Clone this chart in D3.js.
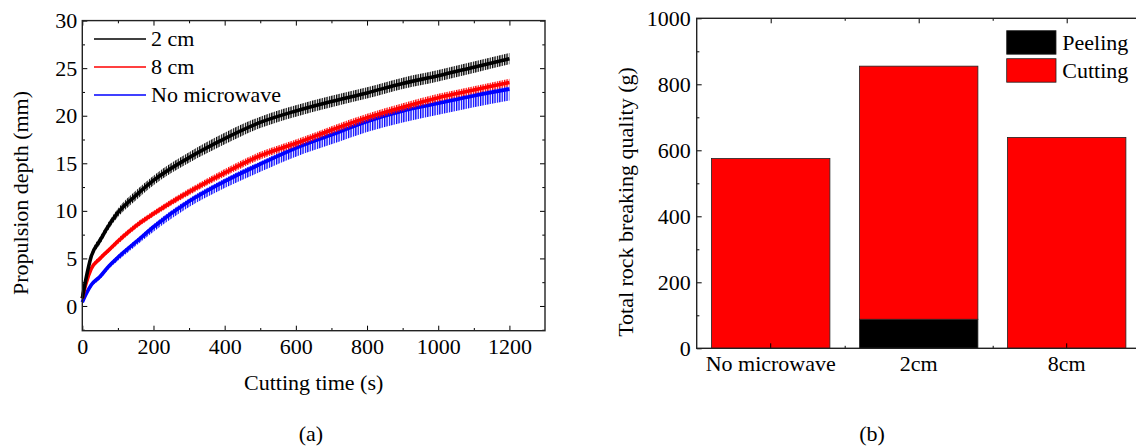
<!DOCTYPE html>
<html>
<head>
<meta charset="utf-8">
<script src="https://cdn.jsdelivr.net/npm/d3@7"></script>
<style>
  body { margin: 0; background: #fff; }
  svg text { font-family: "Liberation Serif", "Times New Roman", serif; fill: #000; }
</style>
</head>
<body>
<div id="fig"></div>
<script>
// ---- data ----
const times = [0, 10, 25, 50, 75, 100, 150, 200, 300, 400, 500, 600, 700, 800, 900, 1000, 1100, 1200];
const depth2cm  = [0.8, 2.8, 5.2, 6.9, 8.5, 9.8, 11.6, 13.2, 15.6, 17.6, 19.3, 20.5, 21.5, 22.4, 23.4, 24.2, 25.1, 26.0];
const depth8cm  = [0.8, 2.3, 3.9, 5.0, 5.9, 6.8, 8.4, 9.7, 12.0, 14.0, 15.8, 17.1, 18.5, 19.8, 20.9, 21.9, 22.7, 23.5];
const depthNone = [0.4, 1.2, 2.2, 3.1, 4.2, 5.1, 6.7, 8.3, 11.0, 13.1, 14.9, 16.6, 18.0, 19.4, 20.5, 21.3, 22.1, 22.8];
// half-amplitude of the oscillation around each curve (mm)
const jitter2cm    = [0, 0.2, 0.3, 0.4, 0.4, 0.45, 0.5, 0.5, 0.55, 0.6, 0.6, 0.6, 0.6, 0.6, 0.6, 0.6, 0.6, 0.6];
const jitter8cm    = [0, 0.1, 0.2, 0.25, 0.25, 0.3, 0.3, 0.3, 0.35, 0.4, 0.4, 0.4, 0.4, 0.4, 0.4, 0.4, 0.4, 0.4];
const jitterNoneUp = [0, 0.1, 0.15, 0.2, 0.2, 0.25, 0.25, 0.3, 0.3, 0.3, 0.3, 0.3, 0.3, 0.3, 0.3, 0.3, 0.3, 0.3];
const jitterNoneDn = [0, 0.2, 0.25, 0.3, 0.3, 0.35, 0.4, 0.5, 0.6, 0.7, 0.8, 0.9, 1.0, 1.1, 1.2, 1.2, 1.2, 1.2];
const seriesNames  = ["2 cm", "8 cm", "No microwave"];

const groups  = ["No microwave", "2cm", "8cm"];
const peeling = [0, 88, 0];
const cutting = [575, 767, 639];
const stackKeys = ["Peeling", "Cutting"];

const xTicksA = [0, 200, 400, 600, 800, 1000, 1200];
const yTicksA = [0, 5, 10, 15, 20, 25, 30];
const yTicksB = [0, 200, 400, 600, 800, 1000];

const W = 1136, H = 446, FS = 22;
const svg = d3.select("#fig").append("svg").attr("width", W).attr("height", H);
const defs = svg.append("defs");

// =====================
// (a) line chart
// =====================
const A = { left: 82.3, right: 545, top: 20.6, bottom: 330.7 };
const x = d3.scaleLinear().domain([0, 1300]).range([A.left, A.right]);
const y = d3.scaleLinear().domain([-2.6, 30]).range([A.bottom, A.top]);

const series = [
  { name: "No microwave", color: "#0000ff", v: depthNone, up: jitterNoneUp, dn: jitterNoneDn },
  { name: "8 cm", color: "#ff0000", v: depth8cm, up: jitter8cm, dn: jitter8cm },
  { name: "2 cm", color: "#000000", v: depth2cm, up: jitter2cm, dn: jitter2cm }
];

series.forEach((s, k) => {
  const pat = defs.append("pattern")
    .attr("id", "stripe" + k)
    .attr("patternUnits", "userSpaceOnUse")
    .attr("width", 2.4).attr("height", 10);
  pat.append("rect").attr("width", 1.3).attr("height", 10).attr("fill", s.color);
});

const plotA = svg.append("g");
series.forEach((s, k) => {
  const pts = times.map((t, i) => ({ t, v: s.v[i], up: s.up[i], dn: s.dn[i] }));
  plotA.append("path")
    .datum(pts)
    .attr("fill", `url(#stripe${k})`)
    .attr("d", d3.area()
      .x(d => x(d.t))
      .y0(d => y(d.v - d.dn))
      .y1(d => y(d.v + d.up))
      .curve(d3.curveMonotoneX));
  plotA.append("path")
    .datum(pts)
    .attr("fill", "none")
    .attr("stroke", s.color)
    .attr("stroke-width", 3.6)
    .attr("d", d3.line().x(d => x(d.t)).y(d => y(d.v)).curve(d3.curveMonotoneX));
});

function styleAxis(g) {
  g.select(".domain").remove();
  g.selectAll("line").attr("stroke", "#000").attr("stroke-width", 1);
  g.selectAll("text").style("font-size", FS + "px")
    .style("font-family", '"Liberation Serif", serif');
}

// axes (a) - ticks point inward
const minorX = [100, 300, 500, 700, 900, 1100];
const minorY = [-2.5, 2.5, 7.5, 12.5, 17.5, 22.5, 27.5];
svg.append("g").attr("transform", `translate(0,${A.bottom})`)
  .call(d3.axisBottom(x).tickValues(xTicksA).tickSize(-5).tickPadding(7.7).tickFormat(d3.format("d")))
  .call(styleAxis);
svg.append("g").attr("transform", `translate(0,${A.bottom})`)
  .call(d3.axisBottom(x).tickValues(minorX).tickSize(-2.7).tickFormat(""))
  .call(styleAxis);
svg.append("g").attr("transform", `translate(0,${A.top})`)
  .call(d3.axisTop(x).tickValues(xTicksA).tickSize(-5).tickFormat(""))
  .call(styleAxis);
svg.append("g").attr("transform", `translate(0,${A.top})`)
  .call(d3.axisTop(x).tickValues(minorX).tickSize(-2.7).tickFormat(""))
  .call(styleAxis);
svg.append("g").attr("transform", `translate(${A.left},0)`)
  .call(d3.axisLeft(y).tickValues(yTicksA).tickSize(-5).tickPadding(5))
  .call(styleAxis);
svg.append("g").attr("transform", `translate(${A.left},0)`)
  .call(d3.axisLeft(y).tickValues(minorY).tickSize(-2.7).tickFormat(""))
  .call(styleAxis);
svg.append("g").attr("transform", `translate(${A.right},0)`)
  .call(d3.axisRight(y).tickValues(yTicksA).tickSize(-5).tickFormat(""))
  .call(styleAxis);
svg.append("g").attr("transform", `translate(${A.right},0)`)
  .call(d3.axisRight(y).tickValues(minorY).tickSize(-2.7).tickFormat(""))
  .call(styleAxis);

svg.append("rect")
  .attr("x", A.left).attr("y", A.top)
  .attr("width", A.right - A.left).attr("height", A.bottom - A.top)
  .attr("fill", "none").attr("stroke", "#222").attr("stroke-width", 1.4);

// legend (a)
const legendColors = { "2 cm": "#000000", "8 cm": "#ff0000", "No microwave": "#0000ff" };
const legA = svg.append("g");
seriesNames.forEach((n, i) => {
  const ly = 39 + i * 28;
  legA.append("line")
    .attr("x1", 94).attr("x2", 146).attr("y1", ly).attr("y2", ly)
    .attr("stroke", legendColors[n]).attr("stroke-width", 1.5);
  legA.append("text")
    .attr("x", 151).attr("y", ly + 7)
    .style("font-size", FS + "px")
    .text(n);
});

svg.append("text")
  .attr("x", (A.left + A.right) / 2).attr("y", 390)
  .attr("text-anchor", "middle").style("font-size", FS + "px")
  .text("Cutting time (s)");
svg.append("text")
  .attr("transform", "translate(28,193) rotate(-90)")
  .attr("text-anchor", "middle").style("font-size", FS + "px")
  .text("Propulsion depth (mm)");
svg.append("text")
  .attr("x", 311).attr("y", 441)
  .attr("text-anchor", "middle").style("font-size", FS + "px")
  .text("(a)");

// =====================
// (b) stacked bars
// =====================
const B = { left: 696.7, right: 1140.7, top: 18.3, bottom: 348.3 };
const xb = d3.scaleBand().domain(groups).range([B.left, B.right])
  .paddingInner(0.2).paddingOuter(0.1);
const yb = d3.scaleLinear().domain([0, 1000]).range([B.bottom, B.top]);

const table = groups.map((g, i) => ({ group: g, Peeling: peeling[i], Cutting: cutting[i] }));
const stacked = d3.stack().keys(stackKeys)(table);
const barColor = { Peeling: "#000000", Cutting: "#ff0000" };

svg.append("g").selectAll("g")
  .data(stacked)
  .join("g")
  .attr("fill", d => barColor[d.key])
  .selectAll("rect")
  .data(d => d.filter(p => p[1] > p[0]))
  .join("rect")
  .attr("x", d => xb(d.data.group))
  .attr("y", d => yb(d[1]))
  .attr("width", xb.bandwidth())
  .attr("height", d => yb(d[0]) - yb(d[1]))
  .attr("stroke", "#222")
  .attr("stroke-width", 0.8);

const step = xb.step();
const centers = groups.map(g => xb(g) + xb.bandwidth() / 2);
const between = centers.slice(0, -1).map(c => c + step / 2);

svg.append("g").attr("transform", `translate(0,${B.bottom})`)
  .call(d3.axisBottom(xb).tickSize(-5).tickPadding(7.1)).call(styleAxis);
const xLin = d3.scaleIdentity();
svg.append("g").attr("transform", `translate(0,${B.bottom})`)
  .call(d3.axisBottom(xLin).tickValues(between).tickSize(-2.5).tickFormat(""))
  .call(styleAxis);
svg.append("g").attr("transform", `translate(0,${B.top})`)
  .call(d3.axisTop(xLin).tickValues(centers).tickSize(-5).tickFormat(""))
  .call(styleAxis);
svg.append("g").attr("transform", `translate(0,${B.top})`)
  .call(d3.axisTop(xLin).tickValues(between).tickSize(-2.5).tickFormat(""))
  .call(styleAxis);
svg.append("g").attr("transform", `translate(${B.left},0)`)
  .call(d3.axisLeft(yb).tickValues(yTicksB).tickSize(-5).tickPadding(6).tickFormat(d3.format("d")))
  .call(styleAxis);
svg.append("g").attr("transform", `translate(${B.left},0)`)
  .call(d3.axisLeft(yb).tickValues([100, 300, 500, 700, 900]).tickSize(-2.7).tickFormat(""))
  .call(styleAxis);

svg.append("rect")
  .attr("x", B.left).attr("y", B.top)
  .attr("width", B.right - B.left).attr("height", B.bottom - B.top)
  .attr("fill", "none").attr("stroke", "#222").attr("stroke-width", 1.4);

// legend (b)
const legB = svg.append("g");
stackKeys.forEach((k, i) => {
  const ly = 30.7 + i * 28;
  legB.append("rect")
    .attr("x", 1006.7).attr("y", ly)
    .attr("width", 49.3).attr("height", 23.5)
    .attr("fill", barColor[k]).attr("stroke", "#222").attr("stroke-width", 0.8);
  legB.append("text")
    .attr("x", 1062.3).attr("y", ly + 19.5)
    .style("font-size", FS + "px")
    .text(k);
});

svg.append("text")
  .attr("transform", "translate(633,202) rotate(-90)")
  .attr("text-anchor", "middle").style("font-size", FS + "px")
  .text("Total rock breaking quality (g)");
svg.append("text")
  .attr("x", 872).attr("y", 441)
  .attr("text-anchor", "middle").style("font-size", FS + "px")
  .text("(b)");
</script>
</body>
</html>
